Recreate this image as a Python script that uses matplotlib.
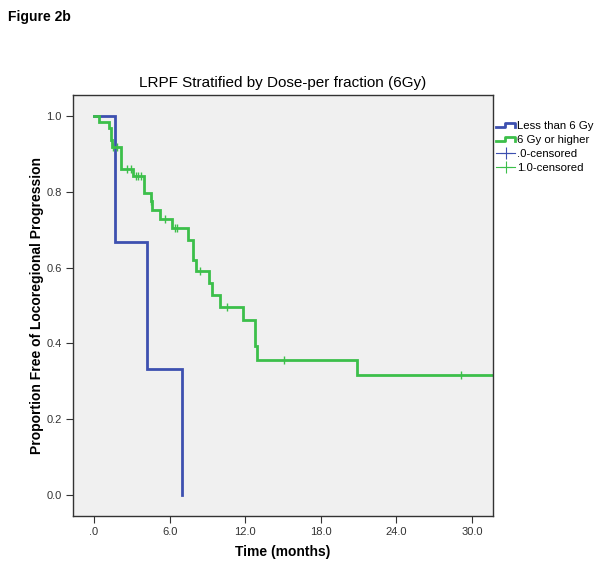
import matplotlib
matplotlib.use("Agg")
import matplotlib.pyplot as plt
import numpy as np
from matplotlib.lines import Line2D
from matplotlib.legend_handler import HandlerBase

plt.rcParams['font.family'] = ['Liberation Sans', 'DejaVu Sans']

# ---- data ----
title = "LRPF Stratified by Dose-per fraction (6Gy)"
xlabel = "Time (months)"
ylabel = "Proportion Free of Locoregional Progression"
xticks = [0, 6, 12, 18, 24, 30]
xticklabels = [".0", "6.0", "12.0", "18.0", "24.0", "30.0"]
yticks = [0.0, 0.2, 0.4, 0.6, 0.8, 1.0]
yticklabels = ["0.0", "0.2", "0.4", "0.6", "0.8", "1.0"]

low_times = [0, 1.67, 4.23, 6.95]
low_surv = [1.0, 0.667, 0.333, 0.0]
low_end = 6.95

high_times = [0, 0.42, 1.22, 1.32, 1.45, 2.12, 3.07, 3.97, 4.52, 4.62, 5.24,
              6.16, 7.49, 7.83, 8.10, 9.15, 9.34, 10.0, 11.85, 12.78, 12.9, 20.9]
high_surv = [1.0, 0.985, 0.968, 0.937, 0.919, 0.861, 0.842, 0.797, 0.775, 0.751,
             0.728, 0.704, 0.674, 0.621, 0.590, 0.560, 0.529, 0.497, 0.463,
             0.393, 0.355, 0.317]
high_end = 31.7
high_censor = [1.5, 1.8, 2.6, 2.95, 3.3, 3.5, 3.75, 4.55, 5.6, 6.43, 6.56,
               8.4, 10.55, 15.1, 29.1]

labels = ["Less than 6 Gy", "6 Gy or higher", ".0-censored", "1.0-censored"]

BLUE = "#3d50b0"
GREEN = "#3cbf4a"


def step_value(times, surv, t):
    idx = np.searchsorted(times, t, side='right') - 1
    return np.asarray(surv)[idx]


fig = plt.figure(figsize=(6.03, 5.73), dpi=100)
ax = fig.add_axes([73/603, 1-516/573, (493-73)/603, (516-95)/573])
ax.set_facecolor("#f0f0f0")

ax.step(list(low_times) + [low_end], list(low_surv) + [low_surv[-1]],
        where='post', color=BLUE, lw=2.0, solid_joinstyle='miter')
ax.step(list(high_times) + [high_end], list(high_surv) + [high_surv[-1]],
        where='post', color=GREEN, lw=2.0, solid_joinstyle='miter')
cy = step_value(high_times, high_surv, np.array(high_censor))
ax.plot(high_censor, cy, linestyle='none', marker='|', ms=6, mew=1.0,
        color=GREEN)

ax.set_xlim(-1.67, 31.67)
ax.set_ylim(-0.055, 1.055)
ax.set_xticks(xticks)
ax.set_xticklabels(xticklabels)
ax.set_yticks(yticks)
ax.set_yticklabels(yticklabels)
ax.tick_params(direction='out', length=5, width=0.8, colors='#333333',
               labelsize=8, labelcolor='#333333', pad=3)
for s in ax.spines.values():
    s.set_color('#333333')
    s.set_linewidth(1.0)

ax.set_xlabel(xlabel, fontsize=10, fontweight='bold', labelpad=6)
ax.set_ylabel(ylabel, fontsize=10, fontweight='bold', labelpad=2)
ax.set_title(title, fontsize=11, pad=6)

fig.text(8/603, 1-17/573, "Figure 2b", fontsize=10, fontweight='bold',
         va='center', ha='left')


class StepHandler(HandlerBase):
    def create_artists(self, legend, orig_handle, xdescent, ydescent,
                       width, height, fontsize, trans):
        x0, x1 = -xdescent, -xdescent + width
        yl, yh = -ydescent + height * 0.2, -ydescent + height * 0.75
        xs = [x0, x0 + width * 0.45, x0 + width * 0.45, x1, x1]
        ys = [yl, yl, yh, yh, yl]
        l = Line2D(xs, ys, color=orig_handle.get_color(), lw=2.0,
                   transform=trans)
        return [l]


h1 = Line2D([], [], color=BLUE)
h2 = Line2D([], [], color=GREEN)
h3 = Line2D([], [], color=BLUE, lw=0.8, marker='+', ms=9, mew=0.8)
h4 = Line2D([], [], color=GREEN, lw=0.8, marker='+', ms=9, mew=0.8)
fig.legend([h1, h2, h3, h4], labels,
           handler_map={h1: StepHandler(), h2: StepHandler()},
           loc='upper left', bbox_to_anchor=(496/603, 1-121/573),
           frameon=False, fontsize=8.2, handlelength=1.7, handletextpad=0.15,
           labelspacing=0.35, borderpad=0, borderaxespad=0)

fig.savefig("out.png", dpi=100)
